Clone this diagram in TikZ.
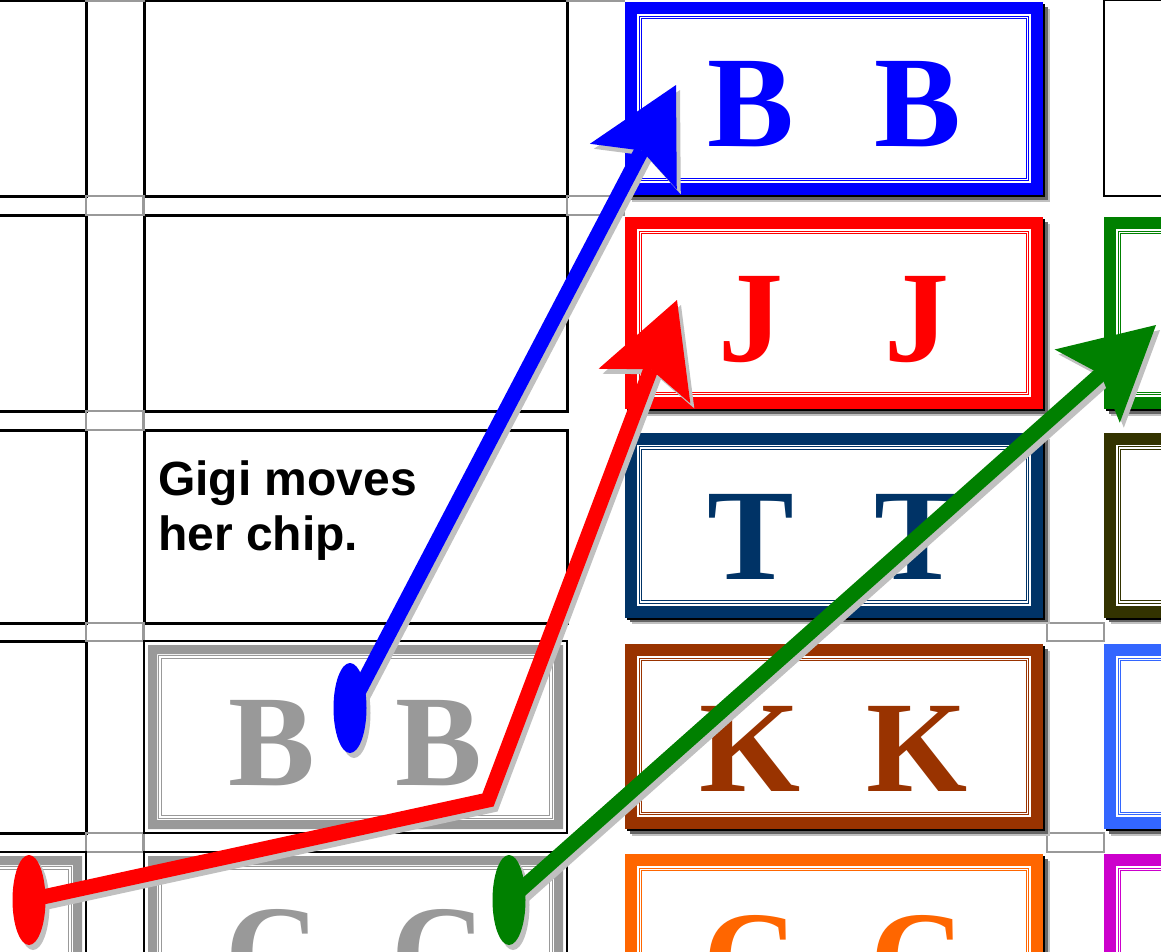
\documentclass[tikz,border=0pt]{standalone}
\usepackage{fontspec}
\setmainfont{Liberation Serif}
\setsansfont{Liberation Sans}
\usepackage{xcolor}
\usepackage{tikz}
\usetikzlibrary{arrows.meta, shapes.geometric, shadows}
\definecolor{cardblue}{HTML}{0000FF}
\definecolor{cardred}{HTML}{FF0000}
\definecolor{cardnavy}{HTML}{003366}
\definecolor{cardbrown}{HTML}{993300}
\definecolor{cardorange}{HTML}{FF6600}
\definecolor{cardgreen}{HTML}{008000}
\definecolor{cardolive}{HTML}{333300}
\definecolor{cardsky}{HTML}{3366FF}
\definecolor{cardmagenta}{HTML}{CC00CC}
\definecolor{cardgray}{HTML}{999999}
\definecolor{shadelight}{HTML}{C0C0C0}
\definecolor{shadedark}{HTML}{666666}
\newcommand\cardfont{\bfseries\fontsize{130}{130}\selectfont}
\newcommand\pair[2][5.5pt]{\raisebox{-#1}[\height][0pt]{\makebox[167pt]{#2}\makebox[167pt]{#2}}\hspace{16pt}}
\tikzset{
  cell/.style={rectangle, draw=black, line width=3pt, fill=white, inner sep=0pt,
               minimum width=423pt, minimum height=196pt},
  joint/.style={draw=cardgray, line width=2.5pt},
  card/.style={rectangle, fill=#1, text=#1, inner sep=0pt, font=\cardfont,
               minimum width=418pt, minimum height=192pt,
               drop shadow={shadow xshift=6.5pt, shadow yshift=-6.5pt, fill=shadelight, opacity=1},
               drop shadow={shadow xshift=4.5pt, shadow yshift=-4.5pt, fill=shadedark, opacity=1},
               drop shadow={shadow xshift=2pt, shadow yshift=-2pt, fill=black, opacity=1},
               path picture={
                 \fill[white] ([shift={(12pt,-12pt)}]path picture bounding box.north west)
                   rectangle ([shift={(-12pt,12pt)}]path picture bounding box.south east);
                 \draw[#1, line width=1.2pt, double=white, double distance=1.5pt]
                   ([shift={(15.5pt,-15.5pt)}]path picture bounding box.north west)
                   rectangle ([shift={(-15.5pt,15.5pt)}]path picture bounding box.south east);
               }},
  greycard/.style={rectangle, draw=black, line width=1.5pt, fill=white, text=cardgray,
               inner sep=0pt, font=\cardfont, minimum width=423pt, minimum height=192pt,
               path picture={
                 \fill[cardgray, even odd rule]
                   ([shift={(4pt,-4pt)}]path picture bounding box.north west)
                   rectangle ([shift={(-4pt,4pt)}]path picture bounding box.south east)
                   ([shift={(13pt,-13pt)}]path picture bounding box.north west)
                   rectangle ([shift={(-13pt,13pt)}]path picture bounding box.south east);
                 \draw[cardgray, line width=1pt, double=white, double distance=1.5pt]
                   ([shift={(16pt,-16pt)}]path picture bounding box.north west)
                   rectangle ([shift={(-16pt,16pt)}]path picture bounding box.south east);
               }},
  note/.style={align=left, inner sep=0pt, font=\sffamily\bfseries\fontsize{48}{55}\selectfont},
  chip/.style={ellipse, fill=#1, inner sep=0pt, minimum width=33pt, minimum height=90pt},
  arr/.style={draw=#1, line width=15pt,
              -{Stealth[length=92pt, width=98pt, inset=18pt, line width=0pt]}},
  arrshade/.style={arr=shadelight, transform canvas={shift={(4pt,-5pt)}}},
}
\begin{document}
\begin{tikzpicture}[x=1pt, y=-1pt]
  \useasboundingbox (0,0) rectangle (1161,951);
  \clip (0,0) rectangle (1161,951);
  % board
  \node[cell] (a1) at (-125.5,98) {};
  \node[cell] (a2) at (-125.5,313) {};
  \node[cell, minimum height=193pt] (a3) at (-125.5,526.5) {};
  \node[cell, minimum height=192pt] (a4) at (-125.5,737) {};
  \node[cell] (b1) at (355.5,98) {};
  \node[cell] (b2) at (355.5,313) {};
  \node[cell, minimum height=193pt] (b3) at (355.5,526.5) {};
  \node[cell, line width=2pt] (d1) at (1315.5,98) {};
  \draw[joint] (86,-18) rectangle (143.5,0.5);
  \draw[joint] (86,196) rectangle (143.5,215);
  \draw[joint] (86,411) rectangle (143.5,430);
  \draw[joint] (86,623) rectangle (143.5,641);
  \draw[joint] (86,833) rectangle (143.5,852);
  \draw[joint] (567,-18) rectangle (624,0.5);
  \draw[joint] (567,196) rectangle (624,215);
  \draw[joint] (1047,623) rectangle (1104,641);
  \draw[joint] (1047,833) rectangle (1104,852);
  \node[greycard] (a5) at (-125.5,948) {};
  \node[greycard] (b4) at (355.5,737) {\pair{B}};
  \node[greycard] (b5) at (355.5,948) {\pair[4pt]{C}};
  \node[card=cardblue, minimum height=193pt] (c1) at (834,98.5) {\pair{B}};
  \node[card=cardred] (c2) at (834,313) {\pair{J}};
  \node[card=cardnavy, minimum height=185pt] (c3) at (834,525) {\pair[12pt]{T}};
  \node[card=cardbrown, minimum height=185pt] (c4) at (834,736.5) {\pair[12pt]{K}};
  \node[card=cardorange, minimum height=185pt] (c5) at (834,946.5) {\pair[12pt]{C}};
  \node[card=cardgreen] (d2) at (1313,313) {};
  \node[card=cardolive, minimum height=185pt] (d3) at (1313,525) {};
  \node[card=cardsky, minimum height=185pt] (d4) at (1313,736.5) {};
  \node[card=cardmagenta, minimum height=185pt] (d5) at (1313,946.5) {};
  \node[note, anchor=north west] (caption) at (158,461) {Gigi moves\\her chip.};
  % chips and moves
  \coordinate (bluepos) at (350,708);
  \coordinate (redpos) at (29,900);
  \coordinate (greenpos) at (509,900);
  \coordinate (bluetip) at (676,85);
  \coordinate (redbend) at (488,800);
  \coordinate (redtip) at (677,300);
  \coordinate (greentip) at (1156,325);
  \draw[arrshade] (bluepos) -- (bluetip);
  \node[chip=shadelight, xshift=4pt, yshift=-5pt] (blueshade) at (bluepos) {};
  \draw[arr=cardblue] (bluepos) -- (bluetip);
  \node[chip=cardblue] (bluechip) at (bluepos) {};
  \draw[arrshade] (redpos) -- (redbend) -- (redtip);
  \node[chip=shadelight, xshift=4pt, yshift=-5pt] (redshade) at (redpos) {};
  \draw[arr=cardred] (redpos) -- (redbend) -- (redtip);
  \node[chip=cardred] (redchip) at (redpos) {};
  \draw[arrshade] (greenpos) -- (greentip);
  \node[chip=shadelight, xshift=4pt, yshift=-5pt] (greenshade) at (greenpos) {};
  \draw[arr=cardgreen] (greenpos) -- (greentip);
  \node[chip=cardgreen] (greenchip) at (greenpos) {};
\end{tikzpicture}
\end{document}
